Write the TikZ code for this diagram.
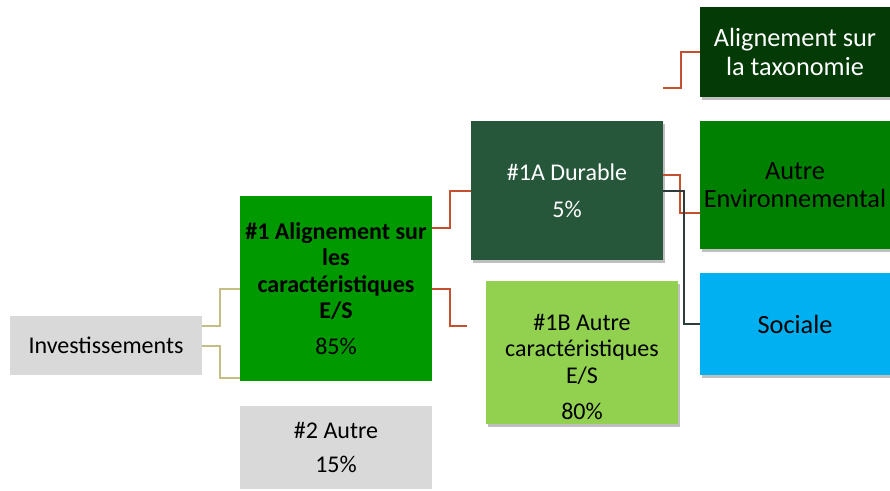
\documentclass[tikz,border=0pt]{standalone}
\usepackage{fontspec}
\setmainfont{Carlito}
\usetikzlibrary{calc,shadows}
\definecolor{lgray}{HTML}{D9D9D9}
\definecolor{gmain}{HTML}{009900}
\definecolor{gdur}{HTML}{26573A}
\definecolor{glight}{HTML}{92D050}
\definecolor{gtax}{HTML}{033A06}
\definecolor{genv}{HTML}{008000}
\definecolor{bsoc}{HTML}{00B0F0}
\definecolor{cred}{HTML}{C4502F}
\definecolor{colive}{HTML}{C4BD84}
\definecolor{cdark}{HTML}{2F3B3B}
\newcommand\fsM{\fontsize{24}{26.5}\selectfont}
\newcommand\fsR{\fontsize{26.3}{28.5}\selectfont}
\begin{document}
\begin{tikzpicture}[x=1pt,y=-1pt,
  box/.style={draw=none, inner sep=0pt, align=center, font=\fsM},
  shbox/.style={box, drop shadow={shadow xshift=2pt, shadow yshift=-2.5pt, opacity=0.25, fill=black}},
  txt/.style={inner sep=0pt, align=center, font=\fsM},
  conn/.style={line width=2pt},
  ]
\useasboundingbox (0,0) rectangle (890,490);
% connectors
\coordinate (t0) at (663,88);
% boxes
\node[box, fill=lgray, minimum width=192pt, minimum height=59pt] (inv) at (106,345.5) {Investissements};
\node[box, fill=gmain, minimum width=192pt, minimum height=185pt] (b1) at (336,288.5)
  {\textbf{\#1 Alignement sur}\\ \textbf{les}\\ \textbf{caractéristiques}\\ \textbf{E/S}\\[9.5pt] 85\%};
\node[box, fill=lgray, minimum width=192pt, minimum height=83pt] (b2) at (336,447.5) {\#2 Autre\\[7.5pt]15\%};
\node[shbox, fill=gdur, text=white, minimum width=192pt, minimum height=139pt] (b1a) at (567,190.5) {\#1A Durable\\[10.5pt]5\%};
\node[shbox, fill=glight, minimum width=192pt, minimum height=143pt] (b1b) at (582,352.5) {};
\node[txt] (b1bt) at (582,367) {\#1B Autre\\caractéristiques\\E/S\\[10pt]80\%};
\node[shbox, fill=gtax, text=white, minimum width=190pt, minimum height=90pt, font=\fsR] (tax) at (795,52) {Alignement sur\\la taxonomie};
\node[shbox, fill=genv, minimum width=190pt, minimum height=128pt, font=\fsR] (env) at (795,185) {Autre\\Environnemental};
\node[shbox, fill=bsoc, minimum width=190pt, minimum height=102pt, font=\fsR] (soc) at (795,324) {Sociale};
% connectors
\draw[conn, colive] ($(inv.north east)+(0,10)$) -- ++(18,0) |- ($(b1.north west)+(0,93)$);
\draw[conn, colive] ($(inv.north east)+(0,30)$) -- ++(18,0) |- ($(b1.south west)+(0,-3)$);
\draw[conn, cred] ($(b1.north east)+(0,32)$) -- ++(18,0) |- (b1a.west);
\draw[conn, cred, shorten >=19pt] (b1.east) -- ++(18,0) |- ($(b1b.north west)+(0,45)$);
\draw[conn, cred] ($(b1a.north east)+(0,54)$) -- ++(17,0) |- ($(env.north west)+(0,92)$);
\draw[conn, cdark] (b1a.east) -- ++(21,0) |- (soc.west);
\draw[conn, cred] (t0) -- ++(18,0) |- (tax.west);
\end{tikzpicture}
\end{document}
